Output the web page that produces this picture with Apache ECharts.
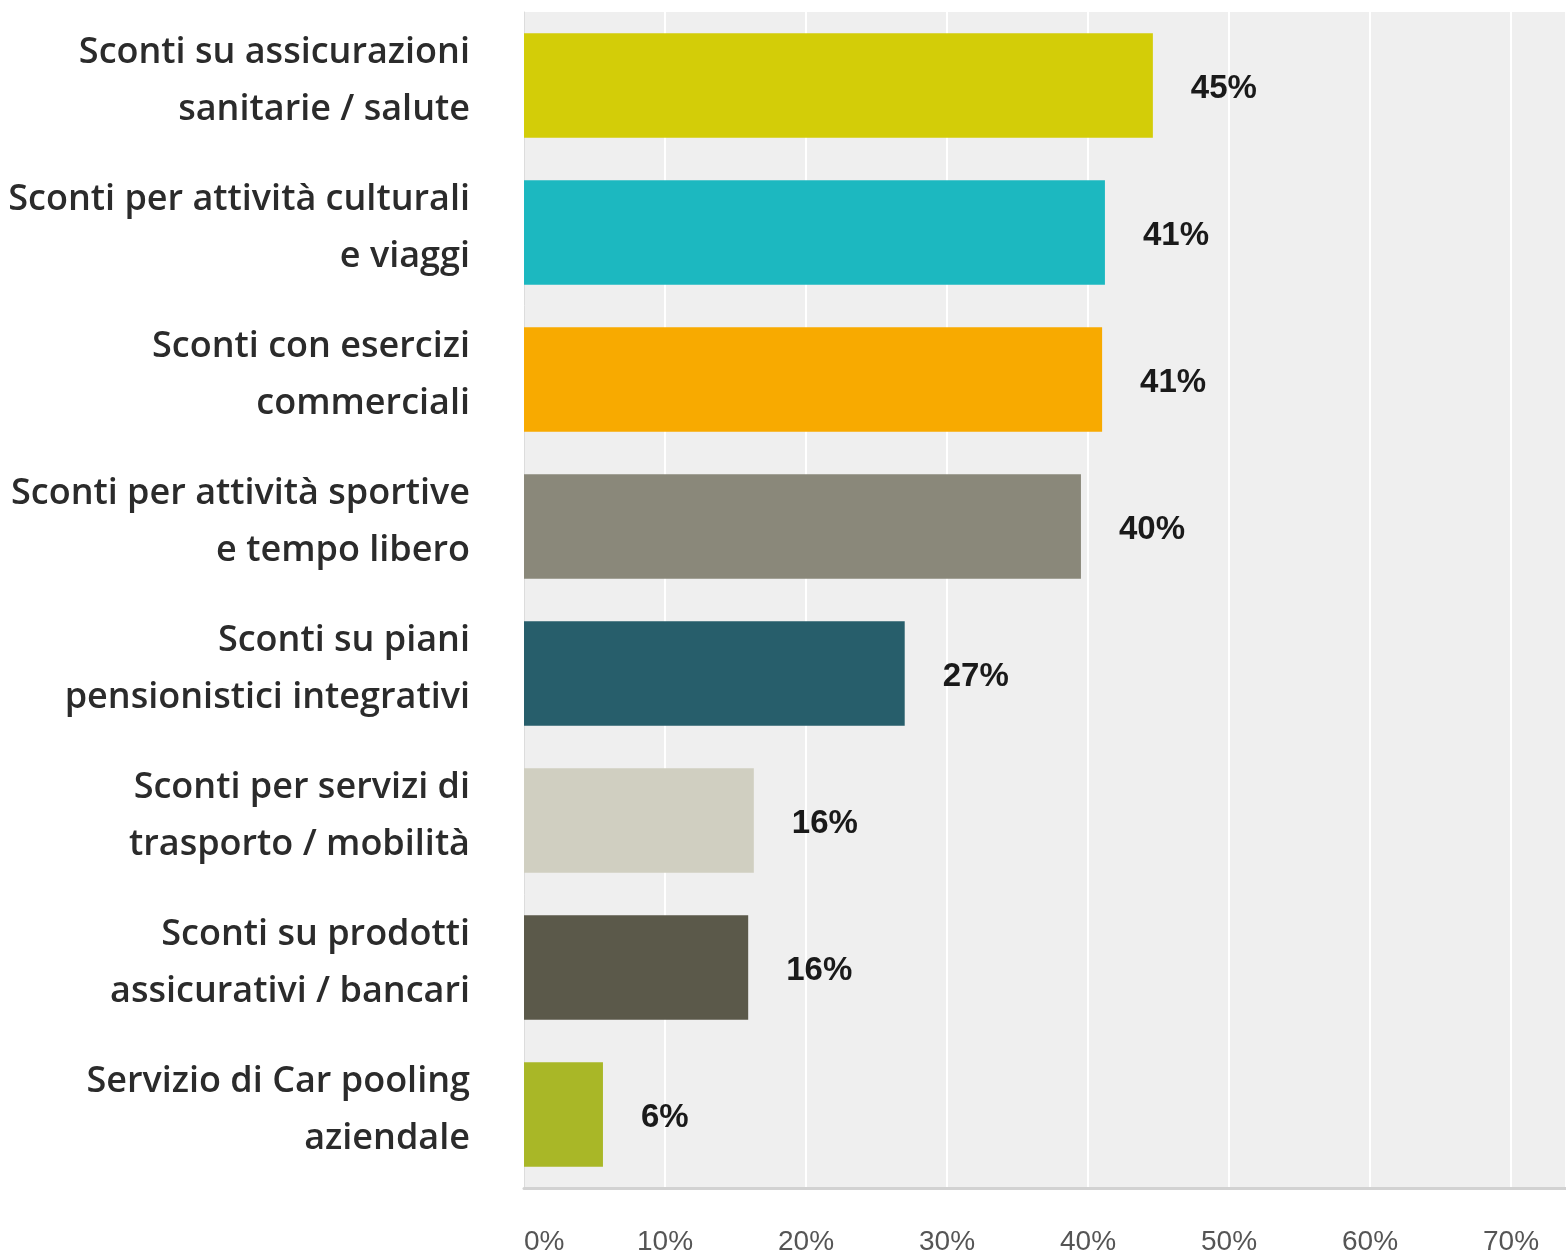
<!DOCTYPE html>
<html>
<head>
<meta charset="utf-8">
<script src="https://cdn.jsdelivr.net/npm/echarts@6/dist/echarts.min.js"></script>
<style>
  html, body { margin: 0; padding: 0; background: #fff; }
  #chart { width: 1566px; height: 1256px; }
</style>
</head>
<body>
<div id="chart"></div>
<script>
const categories = [
  "Sconti su assicurazioni\nsanitarie / salute",
  "Sconti per attività culturali\ne viaggi",
  "Sconti con esercizi\ncommerciali",
  "Sconti per attività sportive\ne tempo libero",
  "Sconti su piani\npensionistici integrativi",
  "Sconti per servizi di\ntrasporto / mobilità",
  "Sconti su prodotti\nassicurativi / bancari",
  "Servizio di Car pooling\naziendale",
];
const values = [44.6, 41.2, 41.0, 39.5, 27.0, 16.3, 15.9, 5.6];
const barColors = ["#d3cd08", "#1cb8c0", "#f8aa00", "#8a887a", "#275e6b", "#d0cfc1", "#5b594a", "#a9b727"];
const tickValues = [0, 10, 20, 30, 40, 50, 60, 70];

const chart = echarts.init(document.getElementById("chart"));

// category names as rich text; a thin empty last line lifts the two lines a bit above the bar centre
function catLabel(name) {
  return name.split("\n").map((s) => "{c|" + s + "}").join("\n") + "\n{s| }";
}

chart.setOption({
  animation: false,
  grid: {
    left: 524,
    right: 0,
    top: 12,
    bottom: 68,
    show: true,
    backgroundColor: "#efefef",
    borderWidth: 0,
    outerBoundsMode: "none",
  },
  xAxis: {
    type: "value",
    min: 0,
    max: 73.9,
    interval: 10,
    axisLine: { show: true, lineStyle: { color: "#d2d2d2", width: 3 } },
    axisTick: { show: false },
    splitLine: { lineStyle: { color: "#ffffff", width: 2 } },
    axisLabel: {
      color: "#555",
      fontSize: 28,
      fontFamily: "Liberation Sans",
      margin: 40,
      alignMinLabel: "left",
      showMaxLabel: false,
      formatter: (v) => (tickValues.includes(v) ? v + "%" : ""),
    },
  },
  yAxis: {
    type: "category",
    inverse: true,
    data: categories,
    axisLine: { show: true, lineStyle: { color: "#dcdcdc", width: 1 } },
    axisTick: { show: false },
    axisLabel: {
      margin: 54,
      align: "right",
      formatter: catLabel,
      rich: {
        c: {
          color: "#2b2b2b",
          fontSize: 36,
          fontFamily: "Open Sans",
          fontWeight: 600,
          lineHeight: 57,
          align: "right",
        },
        s: { fontSize: 1, lineHeight: 8 },
      },
    },
  },
  series: [
    {
      type: "bar",
      barCategoryGap: "29%",
      data: values.map((v, i) => ({ value: v, itemStyle: { color: barColors[i] } })),
      label: {
        show: true,
        position: "right",
        distance: 38,
        offset: [0, 3],
        color: "#1a1a1a",
        fontSize: 33,
        fontWeight: "bold",
        fontFamily: "Liberation Sans",
        formatter: (p) => Math.round(p.value) + "%",
      },
    },
  ],
});
</script>
</body>
</html>
